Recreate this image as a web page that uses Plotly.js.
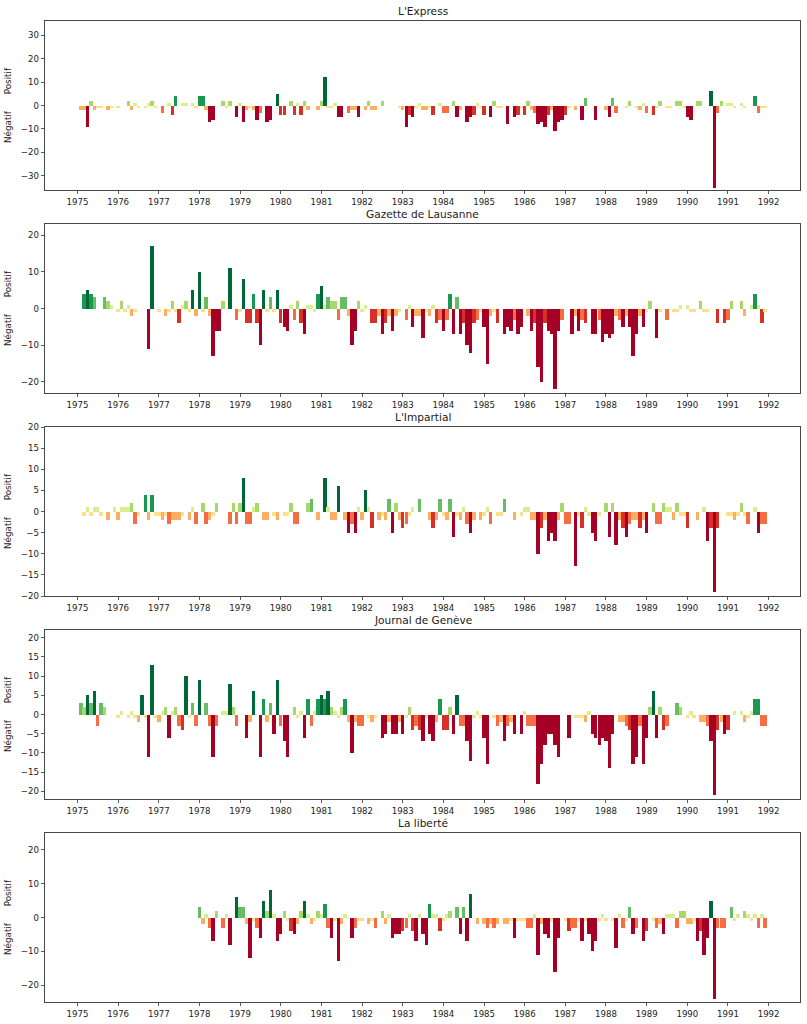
<!DOCTYPE html>
<html><head><meta charset="utf-8">
<script src="https://cdn.plot.ly/plotly-3.0.1.min.js"></script>
<style>html,body{margin:0;padding:0;background:#fff}#chart{width:807px;height:1024px}</style>
</head><body><div id="chart"></div>
<script>
// Monthly counts, January 1975 .. December 1991 (one row per year)
const firstYear = 1975;
const lastYear = 1991;
const titles = ["L'Express", "Gazette de Lausanne", "L'Impartial", "Journal de Genève", "La liberté"];
const yTickSteps = [10, 10, 5, 5, 10];

const expressPos = [
 0,0,0,0,2,0,0,0,0,0,0,0,
 0,0,0,2,0,1,0,0,0,1,2,0,
 0,0,0,1,0,4,0,1,1,0,1,0,
 4,4,0,0,0,0,0,2,0,2,0,0,
 1,0,0,0,0,0,0,0,0,0,0,5,
 0,0,0,2,0,1,0,2,0,0,0,0,
 2,12,0,0,1,0,0,0,0,0,0,0,
 0,0,2,0,0,0,2,0,0,0,0,0,
 0,0,0,0,0,1,0,0,0,0,0,1,
 0,0,0,2,0,0,0,0,0,0,1,0,
 0,0,0,2,0,0,0,0,0,0,0,0,
 0,2,0,0,0,0,0,0,0,0,0,0,
 0,0,0,0,0,0,3,0,0,0,0,0,
 0,0,3,0,0,0,0,2,0,0,0,1,
 0,0,0,0,2,0,0,0,0,2,2,0,
 0,0,0,2,2,0,0,6,0,0,2,0,
 1,1,0,0,1,0,0,0,4,0,0,0];
const expressNeg = [
 0,-2,-2,-9,0,-2,-1,-1,0,-2,-1,0,
 -1,0,0,0,-2,0,-1,0,-1,0,0,-1,
 0,-3,0,0,-4,0,0,0,0,0,0,-1,
 0,0,-2,-7,-6,0,0,0,-1,0,0,-5,
 0,-7,-2,-1,-2,-6,-3,0,-7,-6,0,0,
 -4,-4,0,0,-4,0,-4,0,-2,0,0,-2,
 0,0,-1,-1,0,-5,-5,0,-3,-2,-2,-5,
 0,-2,0,-2,-2,0,0,0,0,0,0,-1,
 -2,-9,-4,-5,-1,0,-2,-2,-1,-4,0,0,
 -3,-3,0,0,-5,-2,0,-7,-5,-4,0,-1,
 -4,0,-5,0,-1,-1,0,-8,0,-5,-4,-1,
 -4,0,-2,-3,-8,-7,-9,-4,-2,-11,-7,-6,
 -4,-1,0,-2,0,-6,0,0,0,-6,0,0,
 -2,-5,0,-3,0,0,-1,0,0,-1,-2,0,
 -3,0,-4,-1,0,0,-1,-1,0,0,0,-1,
 -5,-6,0,0,0,0,0,0,-35,-3,0,0,
 0,0,-1,0,0,-1,0,0,0,-3,-1,-1];

const gazettePos = [
 0,0,4,5,4,3,0,0,3,2,1,0,
 0,2,0,1,0,0,0,0,0,0,17,0,
 0,0,0,0,2,0,0,1,2,0,5,0,
 10,0,3,0,0,0,0,2,0,11,0,0,
 0,8,0,0,4,0,0,5,0,3,0,5,
 0,0,0,1,0,2,0,0,1,1,0,4,
 6,1,3,2,2,0,3,3,0,0,0,2,
 0,1,0,0,0,0,0,0,0,0,0,0,
 0,0,1,0,0,0,0,0,0,1,0,0,
 0,0,4,0,3,0,0,0,0,0,0,0,
 0,0,0,0,0,0,0,0,0,0,0,0,
 0,0,0,0,0,0,0,0,0,0,0,0,
 0,0,0,0,0,0,0,0,0,0,0,0,
 0,0,0,0,0,0,0,0,0,0,0,0,
 0,2,0,0,0,0,0,0,0,0,1,0,
 1,0,0,0,2,0,0,0,0,0,0,0,
 0,2,0,0,2,0,0,1,4,1,0,0];
const gazetteNeg = [
 0,0,0,0,0,0,0,0,0,0,0,0,
 -1,0,-1,0,-2,-1,0,0,0,-11,0,0,
 -1,0,-2,-1,0,-1,-4,0,0,-1,0,-2,
 0,-1,0,-2,-13,-6,-6,0,0,0,0,-3,
 -1,0,-4,-4,0,-4,-10,0,-1,0,-1,0,
 -4,-5,-6,0,-3,0,-4,-7,0,0,-1,0,
 0,0,0,0,0,-3,0,0,-2,-10,-6,0,
 -1,0,0,-4,-4,-2,-7,-4,-2,-6,-2,-1,
 0,-3,0,-5,-2,-2,-8,-1,-2,0,-4,-3,
 -6,-3,0,-7,0,-7,-4,-10,-12,-4,-3,-1,
 -5,-15,-2,-1,-4,0,-7,-5,-6,-3,-7,-5,
 0,-2,-6,-4,-16,-20,-4,-6,-7,-22,-6,-3,
 0,0,-7,-2,-6,-3,-4,0,-7,-7,-3,-9,
 -7,-8,-7,-2,-3,-5,-2,-5,-13,-7,-2,-5,
 -1,0,0,-8,-1,0,-3,0,-1,-1,0,0,
 0,-1,-1,0,0,-1,-1,0,0,-4,0,-4,
 -3,0,0,0,0,-2,0,0,0,0,-4,-1];

const impartialPos = [
 0,0,0,1,0,1,1,0,0,0,0,1,
 0,1,1,1,2,0,0,0,4,0,4,0,
 0,0,0,0,0,0,0,0,0,0,1,0,
 0,2,0,0,0,2,0,0,0,0,2,0,
 2,8,0,0,1,2,0,0,0,0,0,0,
 0,0,0,2,0,0,0,0,2,3,0,0,
 0,8,1,0,0,6,0,0,0,0,0,1,
 0,5,1,0,0,0,0,0,3,0,2,0,
 0,0,0,1,0,3,0,0,0,0,0,3,
 0,0,3,0,0,0,1,0,0,0,0,0,
 0,1,0,0,0,0,3,0,0,0,0,0,
 1,1,0,0,0,0,0,0,0,0,0,2,
 0,0,0,0,0,0,1,0,0,0,0,0,
 2,0,2,0,0,0,0,0,0,0,0,0,
 0,0,2,0,0,2,1,1,0,2,0,0,
 0,0,0,0,0,1,0,0,0,0,0,0,
 0,0,0,0,2,0,0,0,1,0,0,0];
const impartialNeg = [
 0,0,-1,0,-1,0,0,-1,0,-2,0,0,
 -2,0,0,0,0,-3,-1,0,0,-2,0,-1,
 -1,-2,-1,-3,-2,-2,-2,-1,0,-2,0,-3,
 0,0,-3,-2,-1,0,0,0,0,-3,0,-3,
 0,0,-3,-3,0,0,0,-2,-2,0,-1,-2,
 0,-1,-1,0,-3,-3,0,0,0,0,0,-2,
 0,0,0,-2,-2,0,0,-2,-5,-3,-5,0,
 -2,0,0,-4,0,-2,-1,-2,0,-5,0,-2,
 -4,-3,-1,0,0,0,0,0,-2,-4,-2,0,
 -1,-2,0,-6,-1,-2,0,-3,-5,-2,0,-2,
 -1,0,-3,0,-1,-1,0,0,0,-2,0,-1,
 0,0,-2,-2,-10,-4,-2,-7,-5,-7,-2,0,
 -3,-3,0,-13,-1,-4,0,-1,-5,-7,-1,0,
 0,-6,0,-8,-2,-4,-6,-3,-2,-2,-4,-2,
 -5,0,0,-3,-3,0,0,0,-2,0,-1,-1,
 -4,0,0,-2,0,0,-7,-4,-19,-4,0,0,
 -1,-1,-2,-1,0,-1,-3,0,0,-5,-3,-3];

const journalPos = [
 0,3,2,5,3,6,0,3,2,0,0,0,
 0,1,0,0,1,0,0,5,0,0,13,0,
 0,1,2,0,1,2,0,0,10,0,3,0,
 9,0,3,0,0,0,0,1,1,8,2,0,
 0,0,0,0,6,0,0,4,0,3,0,9,
 0,0,0,0,2,0,1,0,4,0,1,4,
 5,4,6,2,1,0,2,4,0,0,0,0,
 0,0,0,0,0,0,0,0,0,0,0,0,
 0,0,2,0,0,0,0,0,0,0,0,4,
 0,0,2,0,5,0,0,0,0,0,1,0,
 0,0,0,0,0,0,0,0,0,0,0,0,
 1,0,0,0,0,0,0,0,0,0,0,0,
 0,0,0,0,0,0,0,1,0,0,0,0,
 0,0,0,0,0,0,0,0,0,0,0,0,
 0,2,6,0,2,0,0,0,0,3,2,0,
 0,1,0,0,0,0,0,0,0,0,0,0,
 0,0,1,0,1,0,0,1,4,4,0,0];
const journalNeg = [
 0,0,0,0,0,0,-3,0,0,0,0,0,
 -1,0,0,-1,0,-1,-2,0,-1,-11,0,-1,
 -2,0,0,-6,0,0,-3,-4,0,-1,0,-3,
 0,0,0,-3,-11,-3,0,0,0,0,0,-3,
 0,0,-6,-2,0,0,-11,0,-2,0,-5,0,
 -3,-7,-11,0,0,-1,0,-6,0,-3,0,0,
 0,0,0,0,0,-1,0,0,-2,-10,-2,-3,
 -3,0,-1,-2,-1,0,-6,-5,-2,-5,-5,-2,
 -5,-1,0,-4,-3,-4,-7,-1,-5,-7,-2,0,
 -4,-4,0,-5,0,-3,-3,-7,-12,-1,0,-1,
 -6,-13,0,-1,-3,-2,-7,-3,-2,-5,0,-5,
 0,-3,-3,-3,-18,-13,-8,-5,-5,-8,-11,0,
 0,-6,0,-1,-1,-1,-2,0,-5,-6,-8,-6,
 -7,-14,-5,0,-2,-2,-3,-4,-13,-11,-3,-13,
 -6,0,0,-6,0,-4,-3,0,0,0,0,0,
 -1,0,-1,0,-2,-2,-3,-7,-21,-4,-2,-5,
 -4,0,0,0,0,-2,-1,0,0,0,-3,-3];

const liberteP = [
 0,0,0,0,0,0,0,0,0,0,0,0,
 0,0,0,0,0,0,0,0,0,0,0,0,
 0,0,0,0,0,0,0,0,0,0,0,0,
 3,0,1,0,0,2,0,0,1,0,0,6,
 3,3,0,0,0,0,0,5,2,8,1,0,
 0,2,0,0,0,0,2,5,1,0,0,2,
 1,4,0,0,0,0,0,1,0,0,0,0,
 0,0,0,0,0,0,2,0,1,0,0,0,
 0,0,1,0,0,1,0,0,4,1,1,0,
 0,1,2,0,3,0,3,0,7,0,0,0,
 0,0,0,0,0,0,0,0,0,0,0,0,
 0,0,0,1,0,0,0,0,0,0,0,0,
 0,0,0,0,0,0,0,0,0,0,0,1,
 0,0,0,0,1,0,0,3,0,0,0,0,
 0,0,0,0,0,0,1,1,1,0,2,2,
 0,0,0,0,0,0,0,5,0,0,0,0,
 0,3,0,1,0,2,1,0,1,0,1,0];
const liberteN = [
 0,0,0,0,0,0,0,0,0,0,0,0,
 0,0,0,0,0,0,0,0,0,0,0,0,
 0,0,0,0,0,0,0,0,0,0,0,0,
 0,-2,0,-3,-7,0,0,-3,0,-8,0,0,
 0,0,-2,-12,-1,-3,-6,0,0,0,0,-7,
 -5,0,-1,-4,-5,-2,0,0,0,-2,-1,0,
 0,0,-3,-6,-1,-13,-2,0,0,-6,-3,-1,
 -1,0,-2,-1,-3,0,0,-2,0,-6,-5,-5,
 -4,-3,0,-4,-7,0,-5,-8,0,0,0,-4,
 -1,0,0,0,0,-5,0,-7,0,0,-2,0,
 -2,-3,-2,-3,-2,0,-2,-2,-1,-6,-1,-1,
 -1,-3,-3,0,-11,-2,-5,-6,-1,-16,-6,0,
 -1,-4,-3,-3,-1,-7,-1,-5,-10,-7,-1,0,
 -1,0,-1,-9,0,-3,-1,0,-5,-3,0,-7,
 -4,0,-1,-3,-2,-5,0,0,0,-3,0,0,
 -2,-2,-1,-7,-4,-11,-6,0,-24,-3,-3,-3,
 0,0,-1,0,0,0,0,-1,0,-3,0,-3];

const positives = [expressPos, gazettePos, impartialPos, journalPos, liberteP];
const negatives = [expressNeg, gazetteNeg, impartialNeg, journalNeg, liberteN];

// RdYlGn, 11 classes, value -5 .. +5 (clipped)
const rdylgn = ['#a50026','#d73027','#f46d43','#fdae61','#fee08b','#ffffbf',
                '#d9ef8b','#a6d96a','#66bd63','#1a9850','#006837'];
function colorFor(v){ const k = Math.max(-5, Math.min(5, Math.round(v))); return rdylgn[k + 5]; }

const months = [];
for (let y = firstYear; y <= lastYear; y++)
  for (let m = 1; m <= 12; m++) months.push(y + '-' + String(m).padStart(2,'0') + '-01');

const barWidth = 30.4 * 86400000;
const panelTops = [21, 224, 427, 630, 833];
const panelH = 169;
const H = 1024;
const tickFont = {family: 'DejaVu Sans', size: 8.6, color: '#222'};

const data = [];
const layout = {
  width: 807, height: 1024,
  margin: {l: 45, r: 7, t: 0, b: 0},
  paper_bgcolor: '#fff', plot_bgcolor: '#fff',
  showlegend: false, barmode: 'relative', bargap: 0,
  annotations: []
};

for (let i = 0; i < 5; i++) {
  const sfx = i === 0 ? '' : String(i + 1);
  const xa = 'x' + sfx, ya = 'y' + sfx;
  data.push({type: 'bar', x: months, y: positives[i], xaxis: xa, yaxis: ya, width: barWidth,
             marker: {color: positives[i].map(colorFor), line: {width: 0}}, hoverinfo: 'skip'});
  data.push({type: 'bar', x: months, y: negatives[i], xaxis: xa, yaxis: ya, width: barWidth,
             marker: {color: negatives[i].map(colorFor), line: {width: 0}}, hoverinfo: 'skip'});
  const lim = Math.max(...positives[i].map(Math.abs), ...negatives[i].map(Math.abs)) + 1;
  const top = panelTops[i], bottom = top + panelH;
  layout['xaxis' + sfx] = {
    type: 'date', anchor: ya, domain: [0, 1],
    range: ['1974-03-15', '1992-10-09'],
    tick0: '1975-01-01', dtick: 'M12', tickformat: '%Y',
    ticks: 'outside', ticklen: 3.5, tickwidth: 0.8, tickcolor: '#333',
    showline: true, mirror: true, linecolor: '#333', linewidth: 0.9,
    showgrid: false, zeroline: false, tickfont: tickFont, fixedrange: true
  };
  layout['yaxis' + sfx] = {
    anchor: xa, domain: [1 - bottom / H, 1 - top / H],
    range: [-lim - 0.001, lim + 0.001], dtick: yTickSteps[i], tick0: 0,
    ticks: 'outside', ticklen: 3.5, tickwidth: 0.8, tickcolor: '#333',
    showline: true, mirror: true, linecolor: '#333', linewidth: 0.9,
    showgrid: false, zeroline: false, tickfont: tickFont, fixedrange: true,
    title: {text: 'Négatif\u00a0\u00a0\u00a0\u00a0\u00a0\u00a0Positif', standoff: 7,
            font: {family: 'DejaVu Sans', size: 8.8, color: '#222'}}
  };
  layout.annotations.push({
    text: titles[i], xref: 'paper', yref: 'paper', x: 0.5, y: 1 - top / H,
    xanchor: 'center', yanchor: 'bottom', yshift: 2, showarrow: false,
    font: {family: 'DejaVu Sans', size: 10.6, color: '#222'}
  });
}

Plotly.newPlot('chart', data, layout, {staticPlot: true, displayModeBar: false});
</script>
</body></html>
